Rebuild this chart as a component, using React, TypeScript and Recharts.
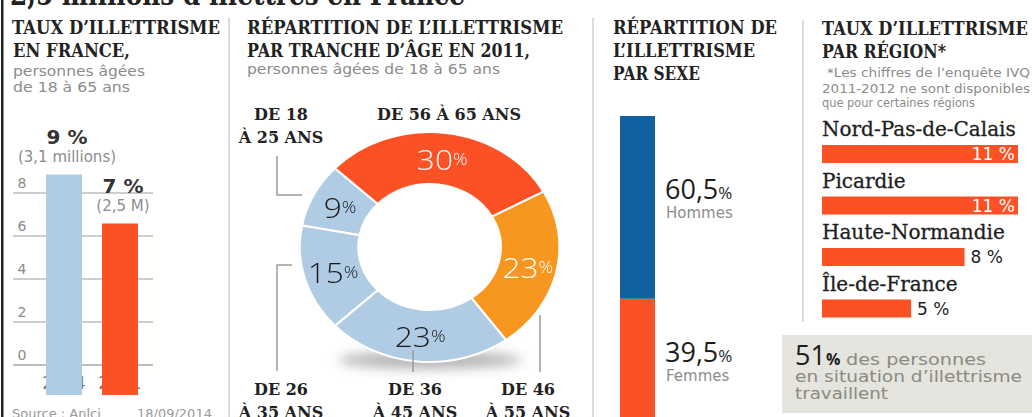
import React from 'react';
import { BarChart, Bar, XAxis, YAxis, PieChart, Pie, Cell, LabelList } from 'recharts';

// ---------- data ----------
const yearCats = ['2004', '2011'];
const yearRates = [9, 7];
const yearPct = ['9 %', '7 %'];
const yearCounts = ['(3,1 millions)', '(2,5 M)'];
const yearTicks = [0, 2, 4, 6, 8];
const yearDomain = [0, 10];

const ageFrom = [18, 56, 46, 36, 26];
const ageTo = [25, 65, 55, 45, 35];
const ageShares = [9, 30, 23, 23, 15];

const sexCats = ['Femmes', 'Hommes'];
const sexShares = [39.5, 60.5];
const sexText = ['39,5', '60,5'];

const regionNames = ['Nord-Pas-de-Calais', 'Picardie', 'Haute-Normandie', 'Île-de-France'];
const regionRates = [11, 11, 8, 5];

// ---------- style ----------
const LIGHT = '#b0cce4';
const RED = '#fb5124';
const ORANGE = '#f7971f';
const DBLUE = '#11609f';
const GREY = '#8c8c8c';
const SERIF = "'DejaVu Serif', serif";
const SANS = "'DejaVu Sans', sans-serif";
const ageColors = [LIGHT, RED, ORANGE, LIGHT, LIGHT];
const ageTextColors = ['#1b1b1b', '#fff', '#fff', '#1b1b1b', '#1b1b1b'];

const yearData = yearCats.map((c, i) => ({ cat: c, v: yearRates[i] }));
const ageData = ageShares.map((v, i) => ({ name: `DE ${ageFrom[i]} À ${ageTo[i]} ANS`, v }));
const sexData = [{ cat: 'sexe', [sexCats[0]]: sexShares[0], [sexCats[1]]: sexShares[1] }];
const regionData = regionNames.map((n, i) => ({ name: n, v: regionRates[i] }));

// panel 1 chart geometry
const Y_TOP = 100;
const Y_H = 300;
const yearMargin = { top: 50, right: 7, left: 0, bottom: 5 };
const X_AXIS_H = 30;

// grid line + value label drawn for each y tick, in the same chart as the bars
const GridTick = (p: any) => (
  <g>
    <line x1={13} x2={153} y1={p.y} y2={p.y} stroke={p.payload.value === 0 ? '#a8a8a8' : '#bdbdbd'} strokeWidth={1.5} />
    <text x={22} y={p.y - 5} textAnchor="middle" fontSize={14} fill={GREY} fontFamily={SANS}>
      {p.payload.value}
    </text>
  </g>
);
const EmptyTick = () => <g />;
const YearTick = (p: any) => (
  <text x={p.x} y={p.y + 16} textAnchor="middle" fontSize={17} fill="#7a7a7a" fontFamily={SANS}>
    {p.payload.value}
  </text>
);
const YearLabel = (p: any) => {
  const cx = p.x + p.width / 2 + 3;
  return (
    <g fontFamily={SANS}>
      <text x={cx} y={p.y - 31} textAnchor="middle" fontSize={20} fontWeight="bold" fill="#333">
        {yearPct[p.index]}
      </text>
      <text x={cx} y={p.y - 13} textAnchor="middle" fontSize={15} fill={GREY}>
        {yearCounts[p.index]}
      </text>
    </g>
  );
};

const RAD = Math.PI / 180;
const renderAgeLabel = (p: any) => {
  const r = (p.innerRadius + p.outerRadius) / 2;
  const x = p.cx + r * Math.cos(-p.midAngle * RAD);
  const y = p.cy + r * Math.sin(-p.midAngle * RAD);
  return (
    <text x={x} y={y} textAnchor="middle" dominantBaseline="central" fill={ageTextColors[p.index]}
      fontFamily="'Open Sans', sans-serif" fontWeight={300}>
      <tspan fontSize={28}>{ageShares[p.index]}</tspan>
      <tspan fontSize={16}>%</tspan>
    </text>
  );
};

const sexShift = [4, -8];
const makeSexLabel = (si: number) => (p: any) => {
  const mid = p.y + p.height / 2 + sexShift[si];
  const x = p.x + p.width + 10;
  return (
    <g>
      <text x={x} y={mid} fontFamily="'Open Sans', sans-serif" fill="#1e1e1e">
        <tspan fontSize={27}>{sexText[si]}</tspan>
        <tspan fontSize={17}>%</tspan>
      </text>
      <text x={x + 1} y={mid + 19} fontFamily={SANS} fontSize={15} fill={GREY}>{sexCats[si]}</text>
    </g>
  );
};

const RegionLabel = (p: any) => {
  const inside = p.width > 150;
  const v = regionRates[p.index];
  return (
    <g>
      <text x={p.x} y={p.y - 9} fontFamily={SERIF} fontSize={20} fill="#1e1e1e" stroke="#1e1e1e" strokeWidth={0.3}>
        {regionNames[p.index]}
      </text>
      <text x={inside ? p.x + p.width - 3 : p.x + p.width + 6} y={p.y + p.height / 2 + 6}
        textAnchor={inside ? 'end' : 'start'} fontFamily={SANS} fontSize={17}
        fill={inside ? '#fff' : '#1e1e1e'}>{`${v} %`}</text>
    </g>
  );
};

const T = (props: any) => (
  <text fontFamily={SERIF} fontWeight="bold" fontSize={18.5} fill="#222" lengthAdjust="spacingAndGlyphs" {...props} />
);
const S = (props: any) => (
  <text fontFamily={SANS} fontSize={14} fill={GREY} lengthAdjust="spacingAndGlyphs" {...props} />
);

export default function App() {
  return (
    <div style={{ position: 'absolute', left: 0, top: 0, width: 1032, height: 417, overflow: 'hidden', background: '#fff' }}>
      {/* background layer: donut shadow */}
      <svg width={1032} height={417} style={{ position: 'absolute', left: 0, top: 0 }}>
        <defs>
          <filter id="blur" x="-50%" y="-200%" width="200%" height="500%">
            <feGaussianBlur stdDeviation="6" />
          </filter>
        </defs>
        <ellipse cx={430} cy={360} rx={92} ry={9} fill="#b5b5b5" filter="url(#blur)" />
      </svg>

      {/* Panel 1: grid + tick labels (axis layer) */}
      <div style={{ position: 'absolute', left: 0, top: Y_TOP, width: 160, height: Y_H, zIndex: 1 }}>
        <BarChart width={160} height={Y_H} data={yearData} margin={yearMargin}>
          <XAxis dataKey="cat" axisLine={false} tickLine={false} padding={{ left: 23, right: 5 }} tick={<YearTick />} height={X_AXIS_H} />
          <YAxis domain={yearDomain} ticks={yearTicks} width={13} axisLine={false} tickLine={false} tick={<GridTick />} />
          <Bar dataKey="v" barSize={36} fill="transparent" isAnimationActive={false} />
        </BarChart>
      </div>
      {/* Panel 1: bars drawn above the grid */}
      <div style={{ position: 'absolute', left: 0, top: Y_TOP, width: 160, height: Y_H, zIndex: 2 }}>
        <BarChart width={160} height={Y_H} data={yearData} margin={yearMargin}>
          <XAxis dataKey="cat" hide padding={{ left: 23, right: 5 }} height={X_AXIS_H} />
          <YAxis domain={yearDomain} ticks={yearTicks} width={13} axisLine={false} tickLine={false} tick={<EmptyTick />} />
          <Bar dataKey="v" barSize={36} isAnimationActive={false}>
            {yearData.map((d, i) => (
              <Cell key={i} fill={i === 0 ? LIGHT : RED} />
            ))}
            <LabelList dataKey="v" content={<YearLabel />} />
          </Bar>
        </BarChart>
      </div>

      {/* Panel 2 donut (horizontally stretched as in the original) */}
      <div style={{ position: 'absolute', left: 294, top: 117, width: 240, height: 260, transform: 'scaleX(1.13)', transformOrigin: '0 0' }}>
        <PieChart width={240} height={260} margin={{ top: 0, right: 0, bottom: 0, left: 0 }}>
          <Pie data={ageData} dataKey="v" nameKey="name" cx={120} cy={130} innerRadius={63} outerRadius={115}
            startAngle={169.2} endAngle={-190.8} stroke="#fff" strokeWidth={2}
            isAnimationActive={false} label={renderAgeLabel} labelLine={false}>
            {ageData.map((d, i) => (
              <Cell key={i} fill={ageColors[i]} />
            ))}
          </Pie>
        </PieChart>
      </div>

      {/* Panel 3 stacked bar */}
      <div style={{ position: 'absolute', left: 610, top: 106, width: 180, height: 312 }}>
        <BarChart width={180} height={312} data={sexData} margin={{ top: 10, right: 135, left: 10, bottom: 0 }} barCategoryGap={0}>
          <XAxis dataKey="cat" hide />
          <YAxis domain={[0, 100]} hide />
          <Bar dataKey={sexCats[0]} stackId="s" fill={RED} isAnimationActive={false}>
            <LabelList content={makeSexLabel(0)} />
          </Bar>
          <Bar dataKey={sexCats[1]} stackId="s" fill={DBLUE} isAnimationActive={false}>
            <LabelList content={makeSexLabel(1)} />
          </Bar>
        </BarChart>
      </div>

      {/* Panel 4 regions */}
      <div style={{ position: 'absolute', left: 822, top: 100, width: 210, height: 234 }}>
        <BarChart layout="vertical" width={210} height={234} data={regionData} margin={{ top: 28, right: 14, left: 0, bottom: 0 }}>
          <XAxis type="number" domain={[0, 11]} hide />
          <YAxis type="category" dataKey="name" hide />
          <Bar dataKey="v" fill={RED} barSize={18} isAnimationActive={false}>
            <LabelList dataKey="v" content={<RegionLabel />} />
          </Bar>
        </BarChart>
      </div>

      {/* overlay texts */}
      <svg width={1032} height={417} style={{ position: 'absolute', left: 0, top: 0, pointerEvents: 'none', zIndex: 3 }}>
        <rect x={1} y={0} width={2.5} height={417} fill="#222" />
        <text x={10} y={5} fontFamily={SERIF} fontWeight="bold" fontSize={30} fill="#222" textLength={455} lengthAdjust="spacingAndGlyphs">2,5 millions d’illettrés en France</text>

        <line x1={229} y1={18} x2={229} y2={417} stroke="#dcdcdc" strokeWidth={2} />
        <line x1={593} y1={18} x2={593} y2={417} stroke="#dcdcdc" strokeWidth={2} />
        <line x1={803} y1={20} x2={803} y2={322} stroke="#dcdcdc" strokeWidth={2} />

        {/* panel 1 */}
        <T x={12} y={34} textLength={208}>TAUX D’ILLETTRISME</T>
        <T x={13} y={57} textLength={117}>EN FRANCE,</T>
        <S x={13} y={76} textLength={132}>personnes âgées</S>
        <S x={13} y={92} textLength={117}>de 18 à 65 ans</S>
        <text x={12} y={418} fontFamily={SANS} fontSize={13} fill="#999">Source : Anlci</text>
        <text x={137} y={418} fontFamily={SANS} fontSize={13} fill="#999">18/09/2014</text>

        {/* panel 2 */}
        <T x={247} y={34} textLength={316}>RÉPARTITION DE L’ILLETTRISME</T>
        <T x={247} y={57} textLength={283}>PAR TRANCHE D’ÂGE EN 2011,</T>
        <S x={247} y={74} textLength={253}>personnes âgées de 18 à 65 ans</S>
        <g fontFamily={SERIF} fontWeight="bold" fontSize={16} fill="#222" textAnchor="middle">
          <text x={281} y={120}>{`DE ${ageFrom[0]}`}</text>
          <text x={281} y={143}>{`À ${ageTo[0]} ANS`}</text>
          <text x={449} y={120}>{`DE ${ageFrom[1]} À ${ageTo[1]} ANS`}</text>
          <text x={281} y={395}>{`DE ${ageFrom[4]}`}</text>
          <text x={281} y={418}>{`À ${ageTo[4]} ANS`}</text>
          <text x={415} y={395}>{`DE ${ageFrom[3]}`}</text>
          <text x={415} y={418}>{`À ${ageTo[3]} ANS`}</text>
          <text x={528} y={395}>{`DE ${ageFrom[2]}`}</text>
          <text x={528} y={418}>{`À ${ageTo[2]} ANS`}</text>
        </g>
        <g stroke="#9a9a9a" strokeWidth={1.5} fill="none">
          <polyline points="277,156 277,195 302,195" />
          <polyline points="292,265 277,265 277,371" />
          <line x1={413} y1={350} x2={413} y2={372} />
          <line x1={540} y1={315} x2={540} y2={372} />
        </g>

        {/* panel 3 */}
        <T x={613} y={34} textLength={164}>RÉPARTITION DE</T>
        <T x={613} y={57} textLength={142}>L’ILLETTRISME</T>
        <T x={613} y={80} textLength={87}>PAR SEXE</T>

        {/* panel 4 */}
        <T x={822} y={35} textLength={206}>TAUX D’ILLETTRISME</T>
        <T x={822} y={58} textLength={124}>PAR RÉGION*</T>
        <S x={827} y={77} fontSize={12} textLength={203}>*Les chiffres de l’enquête IVQ</S>
        <S x={822} y={93} fontSize={12} textLength={208}>2011-2012 ne sont disponibles</S>
        <S x={822} y={107} fontSize={12} textLength={153}>que pour certaines régions</S>

        <rect x={782} y={335} width={250} height={78} fill="#e5e4de" />
        <text x={795} y={365} fontFamily="'Open Sans', sans-serif" fill="#1e1e1e">
          <tspan fontSize={27}>51</tspan>
          <tspan fontSize={16} fontWeight="bold">%</tspan>
        </text>
        <text x={846} y={365} fontFamily={SANS} fontSize={16} fill="#8a8a80" textLength={140} lengthAdjust="spacingAndGlyphs">des personnes</text>
        <text x={795} y={382} fontFamily={SANS} fontSize={16} fill="#8a8a80" textLength={227} lengthAdjust="spacingAndGlyphs">en situation d’illettrisme</text>
        <text x={795} y={399} fontFamily={SANS} fontSize={16} fill="#8a8a80" textLength={93} lengthAdjust="spacingAndGlyphs">travaillent</text>
      </svg>
    </div>
  );
}
